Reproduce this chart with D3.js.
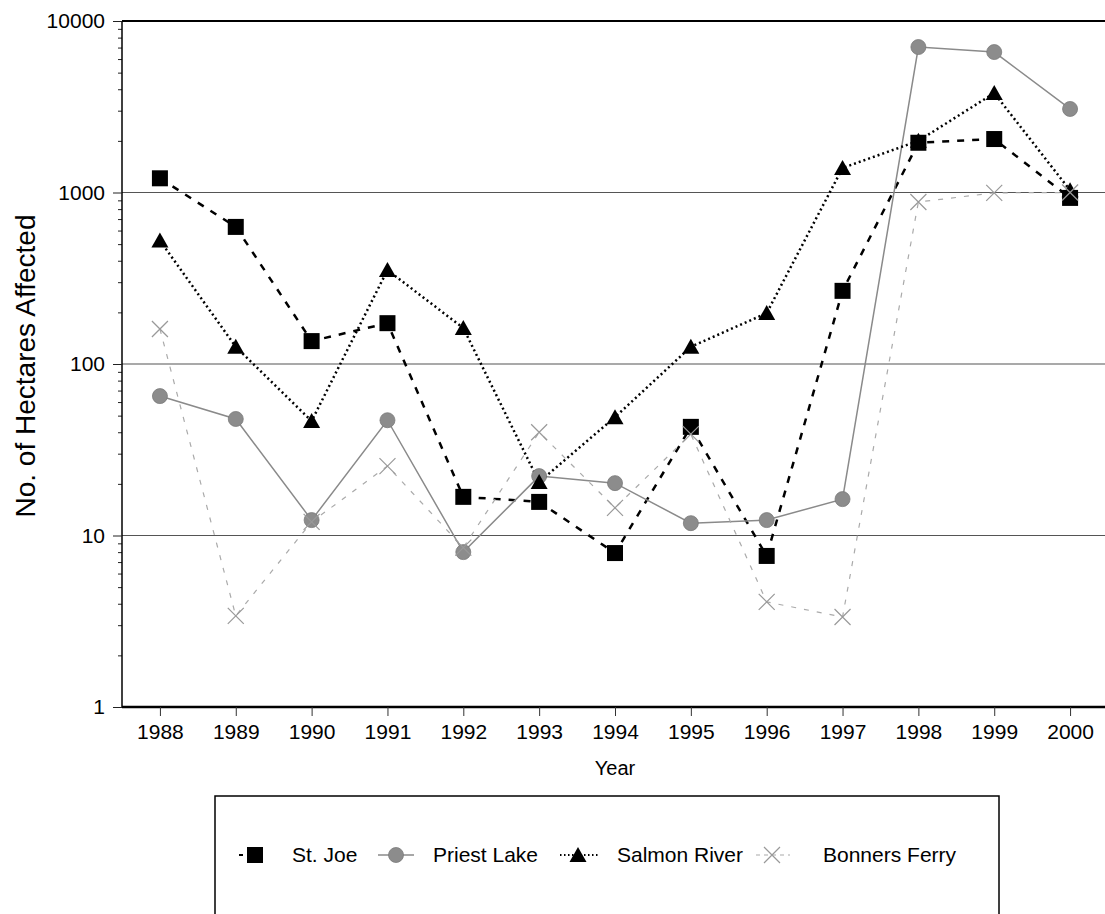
<!DOCTYPE html>
<html>
<head>
<meta charset="utf-8">
<script src="https://cdn.jsdelivr.net/npm/d3@7"></script>
<style>
  body { margin: 0; background: #fff; }
  svg { display: block; font-family: Arial, "Liberation Sans", sans-serif; }
</style>
</head>
<body>
<svg id="chart" width="1105" height="914"></svg>
<script>
// data
var years = [1988, 1989, 1990, 1991, 1992, 1993, 1994, 1995, 1996, 1997, 1998, 1999, 2000];
var stJoe = [1210, 630, 136, 173, 16.8, 15.7, 7.9, 43, 7.6, 267, 1950, 2050, 930];
var priestLake = [65, 47.8, 12.3, 47, 8.0, 22.2, 20.2, 11.8, 12.3, 16.3, 7050, 6590, 3070];
var salmonRiver = [525, 126, 46.5, 353, 162, 20.5, 49, 126, 198, 1390, 2000, 3800, 1030];
var bonnersFerry = [160, 3.4, 12, 25.4, 8.5, 40, 14.5, 39, 4.1, 3.35, 880, 995, 1000];
var yTicks = [1, 10, 100, 1000, 10000];
var gridValues = [10, 100, 1000];

var series = [
  {name: "St. Joe", values: stJoe, marker: "square", stroke: "#000", width: 2.5, dash: "7,8"},
  {name: "Priest Lake", values: priestLake, marker: "circle", stroke: "#8a8a8a", width: 1.5, dash: null},
  {name: "Salmon River", values: salmonRiver, marker: "triangle", stroke: "#000", width: 2.5, dash: "2,3"},
  {name: "Bonners Ferry", values: bonnersFerry, marker: "cross", stroke: "#aaa", width: 1.2, dash: "5,8"}
];

var svg = d3.select("#chart");
var plotLeft = 122, plotRight = 1108, plotTop = 21, plotBottom = 707;
var fontFam = "Arial, 'Liberation Sans', sans-serif";

var x = d3.scalePoint().domain(years).range([plotLeft, plotRight]).padding(0.5);
var y = d3.scaleLog().domain([1, 10000]).range([plotBottom, plotTop]);

// gridlines
svg.append("g").selectAll("line").data(gridValues).enter().append("line")
  .attr("x1", plotLeft).attr("x2", 1105)
  .attr("y1", function(d) { return y(d); }).attr("y2", function(d) { return y(d); })
  .attr("stroke", "#555").attr("stroke-width", 1.2);

// top border
svg.append("line").attr("x1", plotLeft).attr("x2", 1105).attr("y1", y(10000)).attr("y2", y(10000))
  .attr("stroke", "#000").attr("stroke-width", 2);

// minor y ticks
var minor = [];
for (var e = 0; e < 4; e++) for (var m = 2; m <= 9; m++) minor.push(m * Math.pow(10, e));
svg.append("g").attr("transform", "translate(" + plotLeft + ",0)")
  .call(d3.axisLeft(y).tickValues(minor).tickSize(4).tickFormat(""))
  .call(function(g) { g.select(".domain").remove(); g.selectAll("line").attr("stroke", "#222"); });

// y axis
var yAxis = svg.append("g").attr("transform", "translate(" + plotLeft + ",0)")
  .call(d3.axisLeft(y).tickValues(yTicks).tickSize(9).tickPadding(8).tickFormat(d3.format("d")));
yAxis.select(".domain").attr("stroke-width", 1.5).attr("d", "M0," + plotBottom + "V" + plotTop);
yAxis.selectAll("text").attr("font-size", 21).attr("font-family", fontFam).attr("fill", "#000");
yAxis.selectAll("line").attr("stroke", "#222");

// x axis
var xAxis = svg.append("g").attr("transform", "translate(0," + plotBottom + ")")
  .call(d3.axisBottom(x).tickSize(9).tickPadding(8));
xAxis.select(".domain").attr("stroke-width", 2.5).attr("d", "M" + plotLeft + ",0H1105");
xAxis.selectAll("text").attr("font-size", 21).attr("font-family", fontFam).attr("fill", "#000");
xAxis.selectAll("line").attr("stroke", "#333");

// axis titles
svg.append("text").attr("x", x(1994)).attr("y", 775).attr("text-anchor", "middle")
  .attr("font-size", 20).text("Year");
svg.append("text").attr("transform", "translate(35,366) rotate(-90)")
  .attr("text-anchor", "middle").attr("font-size", 28).text("No. of Hectares Affected");

// lines
var line = d3.line().x(function(d, i) { return x(years[i]); }).y(function(d) { return y(d); });

series.forEach(function(s) {
  svg.append("path").datum(s.values)
    .attr("d", line)
    .attr("fill", "none")
    .attr("stroke", s.stroke)
    .attr("stroke-width", s.width)
    .attr("stroke-dasharray", s.dash);
});

function drawMarker(g, type, cx, cy) {
  if (type == "square") {
    g.append("rect").attr("x", cx - 8).attr("y", cy - 8).attr("width", 16).attr("height", 16).attr("fill", "#000");
  } else if (type == "circle") {
    g.append("circle").attr("cx", cx).attr("cy", cy).attr("r", 7.5).attr("fill", "#8c8c8c").attr("stroke", "#7a7a7a").attr("stroke-width", 0.8);
  } else if (type == "triangle") {
    g.append("path").attr("d", "M" + cx + "," + (cy - 8) + "L" + (cx + 8.5) + "," + (cy + 7) + "L" + (cx - 8.5) + "," + (cy + 7) + "Z").attr("fill", "#000");
  } else {
    g.append("path").attr("d", "M" + (cx - 8) + "," + (cy - 8) + "L" + (cx + 8) + "," + (cy + 8) + "M" + (cx + 8) + "," + (cy - 8) + "L" + (cx - 8) + "," + (cy + 8))
      .attr("stroke", "#999").attr("stroke-width", 1.2).attr("fill", "none");
  }
}

series.forEach(function(s) {
  var g = svg.append("g");
  s.values.forEach(function(v, i) { drawMarker(g, s.marker, x(years[i]), y(v)); });
});

// legend
var legend = svg.append("g");
legend.append("rect").attr("x", 215).attr("y", 796).attr("width", 784).attr("height", 140)
  .attr("fill", "none").attr("stroke", "#000").attr("stroke-width", 1.5);

var legendX = [{line: [239, 263], mark: 255, text: 292},
               {line: [378, 414], mark: 396, text: 433},
               {line: [560, 598], mark: 578, text: 617},
               {line: [756, 790], mark: 772, text: 823}];
var ly = 855;
series.forEach(function(s, i) {
  var p = legendX[i];
  legend.append("line").attr("x1", p.line[0]).attr("x2", p.line[1]).attr("y1", ly).attr("y2", ly)
    .attr("stroke", s.stroke).attr("stroke-width", s.width > 2 ? 1.8 : s.width).attr("stroke-dasharray", s.dash ? (s.marker == "triangle" ? "1.5,2.5" : "4,4") : null);
  drawMarker(legend, s.marker, p.mark, ly);
  legend.append("text").attr("x", p.text).attr("y", ly + 7).attr("font-size", 21).text(s.name);
});
</script>
</body>
</html>
